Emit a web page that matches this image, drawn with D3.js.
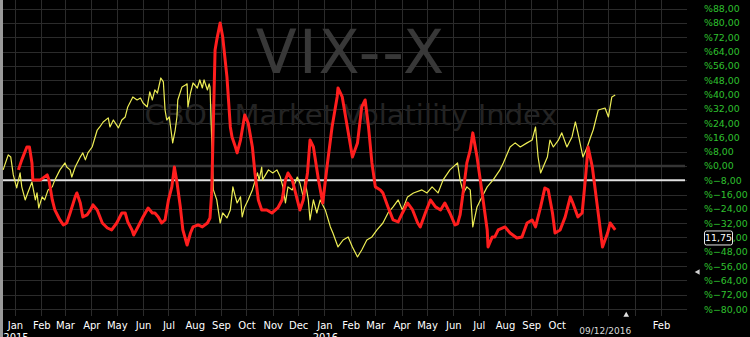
<!DOCTYPE html>
<html>
<head>
<meta charset="utf-8">
<script src="https://cdn.jsdelivr.net/npm/d3@7"></script>
<style>
  body { margin: 0; background: #000; }
  svg { display: block; }
</style>
</head>
<body>
<svg id="chart" width="750" height="337"></svg>
<script>
// Price line (yellow), % change
const yellowDates = [
  "2014-12-18","2014-12-24","2014-12-27","2014-12-30","2015-01-03","2015-01-07","2015-01-09","2015-01-13",
  "2015-01-16","2015-01-21","2015-01-25","2015-01-27","2015-01-29","2015-02-02","2015-02-05","2015-02-09",
  "2015-02-14","2015-02-17","2015-02-23","2015-03-01","2015-03-03","2015-03-07","2015-03-09","2015-03-13",
  "2015-03-19","2015-03-22","2015-03-25","2015-03-28","2015-04-02","2015-04-08","2015-04-11","2015-04-15",
  "2015-04-21","2015-04-23","2015-04-27","2015-05-03","2015-05-07","2015-05-11","2015-05-14","2015-05-20",
  "2015-05-25","2015-05-29","2015-06-01","2015-06-06","2015-06-09","2015-06-12","2015-06-15","2015-06-18",
  "2015-06-22","2015-06-25","2015-06-27","2015-06-29","2015-07-02","2015-07-04","2015-07-06","2015-07-09",
  "2015-07-11","2015-07-12","2015-07-17","2015-07-21","2015-07-23","2015-07-24","2015-07-27","2015-07-30",
  "2015-08-04","2015-08-07","2015-08-10","2015-08-12","2015-08-16","2015-08-18","2015-08-19","2015-08-23",
  "2015-08-27","2015-08-31","2015-09-03","2015-09-08","2015-09-12","2015-09-15","2015-09-18","2015-09-20",
  "2015-09-24","2015-09-26","2015-09-29","2015-10-03","2015-10-08","2015-10-14","2015-10-16","2015-10-19",
  "2015-10-20","2015-10-27","2015-11-01","2015-11-06","2015-11-10","2015-11-13","2015-11-16","2015-11-19",
  "2015-11-24","2015-11-30","2015-12-03","2015-12-07","2015-12-09","2015-12-13","2015-12-15","2015-12-19",
  "2015-12-23","2015-12-27","2016-01-02","2016-01-08","2016-01-11","2016-01-17","2016-01-23","2016-01-29",
  "2016-02-03","2016-02-09","2016-02-14","2016-02-20","2016-02-26","2016-03-03","2016-03-10","2016-03-16",
  "2016-03-22","2016-03-28","2016-04-02","2016-04-08","2016-04-15","2016-04-25","2016-05-01","2016-05-07",
  "2016-05-14","2016-05-20","2016-05-28","2016-06-06","2016-06-09","2016-06-13","2016-06-17","2016-06-21",
  "2016-06-24","2016-06-29","2016-07-03","2016-07-11","2016-07-18","2016-07-26","2016-07-30","2016-08-07",
  "2016-08-13","2016-08-19","2016-08-27","2016-09-02","2016-09-06","2016-09-09","2016-09-12","2016-09-15",
  "2016-09-20","2016-09-23","2016-09-27","2016-10-03","2016-10-07","2016-10-13","2016-10-19","2016-10-23",
  "2016-10-26","2016-11-01","2016-11-06","2016-11-10","2016-11-13","2016-11-19","2016-11-27","2016-12-01",
  "2016-12-05","2016-12-09"
];
const yellowValues = [
  -2.2, 6.2, 5.0, -5.0, -12.3, -3.9, -11.7, -19.0,
  -15.1, -9.0, -19.0, -15.1, -23.5, -17.3, -19.0, -13.4,
  -11.7, -7.8, -2.2, 1.7, -0.6, -2.2, -6.2, -0.6,
  5.0, 7.3, 3.4, 7.3, 10.6, 20.1, 21.8, 24.6,
  26.9, 21.8, 25.7, 21.3, 25.7, 27.4, 33.0, 38.6,
  36.9, 38.0, 35.2, 33.0, 41.4, 36.9, 42.5, 40.8,
  49.2, 47.0, 31.3, 25.7, 27.4, 20.1, 12.9, 20.1,
  27.4, 36.9, 44.2, 45.3, 45.9, 33.0, 40.8, 46.4,
  43.6, 48.1, 43.6, 48.1, 42.5, 45.9, 44.2, -13.4,
  -19.0, -31.9, -26.3, -29.1, -24.6, -11.7, -17.3, -20.7,
  -17.3, -28.5, -22.9, -19.0, -13.4, -3.9, -7.8, -0.6,
  -7.8, -2.2, -3.9, -2.2, -6.2, -11.7, -20.7, -11.7,
  -13.4, -6.2, -9.5, -17.3, -7.8, -19.0, -30.2, -19.0,
  -26.3, -19.0, -24.6, -34.1, -37.5, -45.3, -41.4, -39.7,
  -45.3, -50.9, -47.0, -41.4, -39.7, -35.8, -31.9, -26.3,
  -22.9, -19.0, -24.6, -17.3, -15.1, -13.4, -15.1, -11.7,
  -15.1, -7.8, -2.2, 1.7, -7.8, -15.1, -11.7, -13.4,
  -34.1, -22.9, -19.0, -11.7, -7.8, -2.2, 1.7, 10.6,
  12.9, 10.6, 12.9, 14.5, 21.8, 5.0, -3.9, -0.6,
  5.0, 14.5, 10.6, 14.5, 18.5, 10.6, 16.2, 24.6,
  18.5, 5.0, 10.6, 16.2, 20.1, 31.3, 32.4, 27.4,
  38.6, 39.7
];

// VIX line (red), % change
const redDates = [
  "2015-01-05","2015-01-09","2015-01-15","2015-01-18","2015-01-21","2015-01-22","2015-01-27","2015-01-31",
  "2015-02-08","2015-02-10","2015-02-14","2015-02-17","2015-02-23","2015-02-27","2015-03-03","2015-03-07",
  "2015-03-13","2015-03-15","2015-03-19","2015-03-22","2015-03-27","2015-03-31","2015-04-03","2015-04-08",
  "2015-04-14","2015-04-20","2015-04-25","2015-05-01","2015-05-07","2015-05-11","2015-05-14","2015-05-19",
  "2015-05-21","2015-05-26","2015-06-01","2015-06-07","2015-06-12","2015-06-15","2015-06-19","2015-06-23",
  "2015-06-27","2015-07-01","2015-07-05","2015-07-08","2015-07-11","2015-07-15","2015-07-18","2015-07-23",
  "2015-07-27","2015-07-30","2015-08-05","2015-08-10","2015-08-16","2015-08-19","2015-08-21","2015-08-25",
  "2015-08-27","2015-08-31","2015-09-03","2015-09-08","2015-09-12","2015-09-14","2015-09-18","2015-09-20",
  "2015-09-24","2015-09-29","2015-10-03","2015-10-08","2015-10-11","2015-10-15","2015-10-19","2015-10-25",
  "2015-10-31","2015-11-07","2015-11-12","2015-11-16","2015-11-19","2015-11-24","2015-11-30","2015-12-03",
  "2015-12-07","2015-12-12","2015-12-15","2015-12-19","2015-12-25","2015-12-30","2016-01-04","2016-01-10",
  "2016-01-16","2016-01-17","2016-01-22","2016-01-28","2016-02-03","2016-02-09","2016-02-14","2016-02-18",
  "2016-02-22","2016-02-26","2016-03-01","2016-03-07","2016-03-10","2016-03-16","2016-03-22","2016-03-28",
  "2016-04-02","2016-04-08","2016-04-14","2016-04-20","2016-04-23","2016-04-29","2016-05-05","2016-05-11",
  "2016-05-17","2016-05-22","2016-05-28","2016-06-03","2016-06-06","2016-06-09","2016-06-13","2016-06-17",
  "2016-06-21","2016-06-24","2016-06-29","2016-07-05","2016-07-11","2016-07-12","2016-07-17","2016-07-20",
  "2016-07-24","2016-08-01","2016-08-07","2016-08-15","2016-08-21","2016-08-27","2016-09-02","2016-09-06",
  "2016-09-12","2016-09-17","2016-09-21","2016-09-26","2016-09-29","2016-10-05","2016-10-11","2016-10-17",
  "2016-10-20","2016-10-26","2016-10-31","2016-11-04","2016-11-07","2016-11-12","2016-11-18","2016-11-24",
  "2016-11-30","2016-12-03","2016-12-09"
];
const redValues = [
  -2.2, 3.4, 10.6, 10.6, 1.7, -7.8, -7.8, -7.8,
  -5.0, -7.8, -19.0, -24.6, -30.2, -33.0, -31.9, -26.3,
  -17.3, -15.1, -20.7, -28.5, -27.4, -24.6, -21.8, -24.6,
  -31.9, -34.7, -35.8, -31.9, -26.3, -26.3, -31.3, -35.8,
  -38.6, -34.1, -28.5, -23.5, -26.3, -26.3, -28.5, -31.9,
  -30.2, -19.0, -11.7, -0.6, -9.0, -22.9, -35.8, -44.2,
  -37.5, -34.1, -33.0, -34.1, -31.9, -29.1, -15.1, 64.9,
  70.5, 80.0, 72.2, 49.8, 21.8, 16.2, 10.6, 7.3,
  14.5, 28.5, 24.1, 10.6, -3.9, -19.0, -24.6, -24.6,
  -26.3, -23.5, -19.0, -7.8, -3.9, -7.8, -19.0, -24.6,
  -19.0, -3.9, 14.5, 10.6, -7.8, -20.7, -0.6, 21.8,
  38.6, 43.6, 38.6, 21.8, 5.0, 12.9, 33.0, 36.9,
  21.8, 1.7, -11.7, -13.4, -15.1, -22.9, -30.2, -31.3,
  -26.3, -20.7, -24.6, -31.9, -34.1, -26.3, -19.0, -22.9,
  -24.6, -20.7, -26.3, -33.0, -32.4, -27.4, -13.4, 1.7,
  9.0, 18.5, 5.0, -15.1, -35.8, -45.3, -39.7, -39.7,
  -35.8, -34.1, -37.5, -40.3, -39.7, -31.9, -30.2, -34.1,
  -22.9, -12.3, -13.4, -26.3, -37.5, -35.8, -28.5, -17.3,
  -20.7, -28.5, -26.3, -6.2, 10.6, -0.6, -22.9, -45.3,
  -37.5, -31.9, -35.8
];

// right axis ticks (%)
const pctTicks = [88, 80, 72, 64, 56, 48, 40, 32, 24, 16, 8, 0, -8, -16, -24, -32, -40, -48, -56, -64, -72, -80];

// month grid and labels
const gridMonths = [
  "2015-01-01","2015-02-01","2015-03-01","2015-04-01","2015-05-01","2015-06-01","2015-07-01","2015-08-01",
  "2015-09-01","2015-10-01","2015-11-01","2015-12-01","2016-01-01","2016-02-01","2016-03-01","2016-04-01",
  "2016-05-01","2016-06-01","2016-07-01","2016-08-01","2016-09-01","2016-10-01","2016-11-01","2016-12-01",
  "2017-01-01","2017-02-01"
];
const labelMonths = [
  "2015-01-01","2015-02-01","2015-03-01","2015-04-01","2015-05-01","2015-06-01","2015-07-01","2015-08-01",
  "2015-09-01","2015-10-01","2015-11-01","2015-12-01","2016-01-01","2016-02-01","2016-03-01","2016-04-01",
  "2016-05-01","2016-06-01","2016-07-01","2016-08-01","2016-09-01","2016-10-01","2017-02-01"
];
const yearDates = ["2015-01-01", "2016-01-01"];
const lastDate = "2016-12-09";
const lastDateLabel = "09/12/2016";
const lastPriceLabel = "11,75";
const refLevel = -8;
const title = "VIX--X";
const subtitle = "CBOE Market Volatility Index";

const parse = d3.timeParse("%Y-%m-%d");
const W = 750, H = 337;
const svg = d3.select("#chart");

const x = d3.scaleTime()
  .domain([parse("2015-01-01"), parse("2017-02-01")])
  .range([15, 661]);
const y = d3.scaleLinear().domain([-80, 88]).range([309, 8.6]);
const gridRight = 687;

svg.append("rect").attr("width", W).attr("height", H).attr("fill", "#000");

// gridlines
const grid = svg.append("g").attr("stroke", "#2b2b2b").attr("stroke-width", 1);
grid.selectAll("line.h").data(pctTicks).join("line")
  .attr("class", "h")
  .attr("x1", 3).attr("x2", gridRight)
  .attr("y1", d => Math.round(y(d)) + 0.5).attr("y2", d => Math.round(y(d)) + 0.5);
grid.selectAll("line.v").data(gridMonths.map(parse)).join("line")
  .attr("class", "v")
  .attr("x1", d => Math.round(x(d)) + 0.5).attr("x2", d => Math.round(x(d)) + 0.5)
  .attr("y1", 0).attr("y2", 316);

// watermark
svg.append("text")
  .attr("x", 351).attr("y", 73)
  .attr("text-anchor", "middle")
  .attr("font-family", "DejaVu Sans, sans-serif")
  .attr("font-size", 60).attr("letter-spacing", 2)
  .attr("fill", "#383838")
  .text(title);
svg.append("text")
  .attr("x", 351).attr("y", 125)
  .attr("text-anchor", "middle")
  .attr("font-family", "DejaVu Sans, sans-serif")
  .attr("font-size", 29)
  .attr("fill", "#242424")
  .text(subtitle);

// zero line and reference line
svg.append("line")
  .attr("x1", 40).attr("x2", gridRight - 2)
  .attr("y1", y(0)).attr("y2", y(0))
  .attr("stroke", "#353535").attr("stroke-width", 2.5);
svg.append("line")
  .attr("x1", 0).attr("x2", gridRight - 2)
  .attr("y1", y(refLevel)).attr("y2", y(refLevel))
  .attr("stroke", "#e0e0e0").attr("stroke-width", 2);

// left edge bar
svg.append("rect").attr("x", 0).attr("y", 0).attr("width", 3).attr("height", H).attr("fill", "#9a9a9a");

const line = d3.line()
  .x(d => x(d[0]))
  .y(d => y(d[1]));

const yellowData = yellowDates.map((d, i) => [parse(d), yellowValues[i]]);
const redData = redDates.map((d, i) => [parse(d), redValues[i]]);

svg.append("path")
  .datum(yellowData)
  .attr("d", line)
  .attr("fill", "none")
  .attr("stroke", "#eded55")
  .attr("stroke-width", 1.2)
  .attr("stroke-linejoin", "round");

svg.append("path")
  .datum(redData)
  .attr("d", line)
  .attr("fill", "none")
  .attr("stroke", "#ff1e1e")
  .attr("stroke-width", 3)
  .attr("stroke-linejoin", "round");

// right axis labels
const fmtPct = d => "%" + d3.format(".2f")(d).replace(".", ",");
const yAxis = svg.append("g")
  .attr("transform", "translate(704,0)")
  .call(d3.axisRight(y).tickValues(pctTicks).tickFormat(fmtPct).tickSize(0).tickPadding(0));
yAxis.select(".domain").remove();
yAxis.selectAll("text")
  .attr("fill", "#2fc02f")
  .attr("font-family", "DejaVu Sans, sans-serif")
  .attr("font-size", 9.4);

// last price box
const boxY = y(-40);
svg.append("rect")
  .attr("x", 704.5).attr("y", boxY - 6.5)
  .attr("width", 28).attr("height", 14)
  .attr("rx", 2)
  .attr("fill", "#000").attr("stroke", "#e8e8e8").attr("stroke-width", 1);
svg.append("text")
  .attr("x", 718.5).attr("y", boxY + 4)
  .attr("text-anchor", "middle")
  .attr("font-family", "DejaVu Sans, sans-serif")
  .attr("font-size", 9.4)
  .attr("fill", "#fff")
  .text(lastPriceLabel);

// small marker arrows
svg.append("path")
  .attr("d", d3.symbol(d3.symbolTriangle, 14)())
  .attr("transform", `translate(${x(parse(lastDate)) + 11},315)`)
  .attr("fill", "#e0e0e0");
svg.append("path")
  .attr("d", d3.symbol(d3.symbolTriangle, 14)())
  .attr("transform", "translate(698,272) rotate(-90)")
  .attr("fill", "#d0d0d0");

// bottom month labels
const xAxis = svg.append("g")
  .attr("transform", "translate(0,315)")
  .call(d3.axisBottom(x).tickValues(labelMonths.map(parse))
    .tickFormat(d3.timeFormat("%b")).tickSize(0).tickPadding(7));
xAxis.select(".domain").remove();
xAxis.selectAll("text")
  .attr("fill", "#fff")
  .attr("font-family", "DejaVu Sans, sans-serif")
  .attr("font-size", 10);

// year labels (cut by the bottom edge, as in the original)
svg.selectAll("text.year").data(yearDates).join("text")
  .attr("class", "year")
  .attr("x", d => x(parse(d)) + 1)
  .attr("y", 341)
  .attr("text-anchor", "middle")
  .attr("font-family", "DejaVu Sans, sans-serif")
  .attr("font-size", 10)
  .attr("fill", "#fff")
  .text(d => d.slice(0, 4));

// last date label
svg.append("text")
  .attr("x", x(parse(lastDate)) - 10)
  .attr("y", 334)
  .attr("text-anchor", "middle")
  .attr("font-family", "DejaVu Sans, sans-serif")
  .attr("font-size", 9)
  .attr("fill", "#d8d8d8")
  .text(lastDateLabel);
</script>
</body>
</html>
